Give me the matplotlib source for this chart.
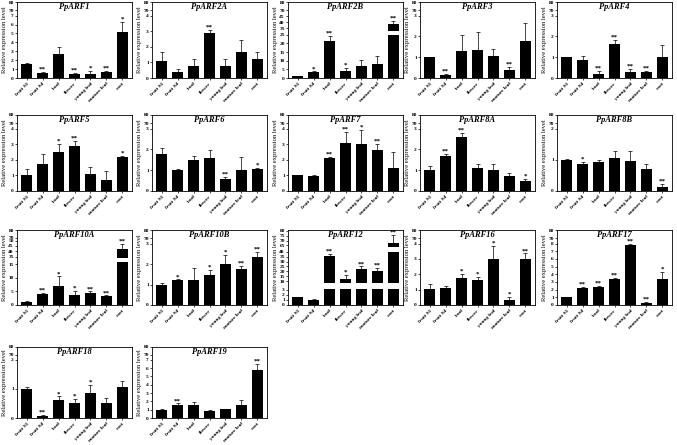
import numpy as np
import matplotlib
matplotlib.use('Agg')
import matplotlib.pyplot as plt

plt.rcParams.update({
    'font.family': 'Liberation Serif',
    'font.weight': 'bold',
    'axes.linewidth': 0.6,
    'xtick.major.width': 0.5, 'ytick.major.width': 0.5,
    'xtick.major.size': 1.5, 'ytick.major.size': 1.5,
    'xtick.major.pad': 1, 'ytick.major.pad': 0.8,
})

tissues = ['fruit S1', 'fruit S4', 'bud', 'flower', 'young leaf', 'mature leaf', 'root']

genes = ['PpARF1', 'PpARF2A', 'PpARF2B', 'PpARF3', 'PpARF4',
         'PpARF5', 'PpARF6', 'PpARF7', 'PpARF8A', 'PpARF8B',
         'PpARF10A', 'PpARF10B', 'PpARF12', 'PpARF16', 'PpARF17',
         'PpARF18', 'PpARF19']

means = {
    'PpARF1':   [1.6, 0.6, 2.75, 0.4, 0.5, 0.7, 5.15],
    'PpARF2A':  [1.1, 0.4, 0.75, 2.9, 0.75, 1.65, 1.25],
    'PpARF2B':  [1.0, 3.2, 21.5, 4.2, 7.0, 7.8, 39.0],
    'PpARF3':   [1.0, 0.15, 1.3, 1.35, 1.07, 0.38, 1.8],
    'PpARF4':   [1.0, 0.85, 0.18, 1.65, 0.3, 0.28, 1.0],
    'PpARF5':   [1.05, 1.75, 2.5, 2.9, 1.07, 0.72, 2.2],
    'PpARF6':   [1.78, 1.0, 1.48, 1.58, 0.57, 1.0, 1.05],
    'PpARF7':   [1.02, 0.98, 2.1, 3.1, 3.0, 2.6, 1.5],
    'PpARF8A':  [1.0, 1.68, 2.6, 1.12, 1.02, 0.7, 0.5],
    'PpARF8B':  [1.0, 0.87, 0.92, 1.07, 0.97, 0.7, 0.13],
    'PpARF10A': [1.0, 4.2, 7.0, 3.8, 4.4, 3.2, 42.0],
    'PpARF10B': [1.0, 1.2, 1.22, 1.45, 2.0, 1.77, 2.32],
    'PpARF12':  [1.5, 1.0, 36.0, 12.0, 22.5, 20.0, 67.0],
    'PpARF16':  [1.05, 1.12, 1.78, 1.65, 3.0, 0.3, 3.0],
    'PpARF17':  [1.0, 2.2, 2.35, 3.4, 7.8, 0.25, 3.35],
    'PpARF18':  [1.0, 0.07, 0.62, 0.52, 0.87, 0.53, 1.08],
    'PpARF19':  [1.0, 1.6, 1.55, 0.9, 1.05, 1.55, 5.8],
}

errs = {
    'PpARF1':   [0.1, 0.05, 0.7, 0.2, 0.25, 0.1, 1.1],
    'PpARF2A':  [0.55, 0.15, 0.5, 0.2, 0.45, 0.8, 0.45],
    'PpARF2B':  [0.2, 0.6, 2.8, 1.8, 3.5, 4.8, 2.5],
    'PpARF3':   [0.03, 0.03, 0.75, 0.85, 0.35, 0.15, 0.85],
    'PpARF4':   [0.0, 0.2, 0.15, 0.2, 0.12, 0.05, 0.58],
    'PpARF5':   [0.35, 0.6, 0.5, 0.3, 0.45, 0.55, 0.05],
    'PpARF6':   [0.28, 0.08, 0.22, 0.38, 0.12, 0.65, 0.07],
    'PpARF7':   [0.03, 0.03, 0.07, 0.7, 0.9, 0.4, 1.0],
    'PpARF8A':  [0.2, 0.1, 0.2, 0.18, 0.3, 0.15, 0.07],
    'PpARF8B':  [0.03, 0.06, 0.07, 0.2, 0.32, 0.18, 0.1],
    'PpARF10A': [0.4, 0.3, 3.5, 1.3, 0.6, 0.3, 5.0],
    'PpARF10B': [0.08, 0.05, 0.6, 0.28, 0.45, 0.15, 0.25],
    'PpARF12':  [0.1, 0.1, 1.5, 4.5, 2.5, 3.5, 8.5],
    'PpARF16':  [0.3, 0.1, 0.22, 0.15, 0.85, 0.25, 0.35],
    'PpARF17':  [0.05, 0.1, 0.1, 0.15, 0.1, 0.1, 0.9],
    'PpARF18':  [0.07, 0.03, 0.12, 0.14, 0.27, 0.15, 0.18],
    'PpARF19':  [0.05, 0.15, 0.35, 0.12, 0.05, 0.65, 0.75],
}

sigs = {
    'PpARF1':   ['', '**', '', '**', '*', '**', '*'],
    'PpARF2A':  ['', '', '', '**', '', '', ''],
    'PpARF2B':  ['', '*', '**', '*', '', '', '**'],
    'PpARF3':   ['', '**', '', '', '', '**', ''],
    'PpARF4':   ['', '', '**', '**', '**', '**', ''],
    'PpARF5':   ['', '', '*', '**', '', '', '*'],
    'PpARF6':   ['', '', '', '', '**', '', '*'],
    'PpARF7':   ['', '', '**', '**', '*', '**', ''],
    'PpARF8A':  ['', '**', '**', '', '', '', '*'],
    'PpARF8B':  ['', '*', '', '', '', '', '**'],
    'PpARF10A': ['', '**', '*', '*', '**', '**', '**'],
    'PpARF10B': ['', '*', '', '*', '*', '**', '**'],
    'PpARF12':  ['', '', '**', '*', '**', '**', '**'],
    'PpARF16':  ['', '', '*', '*', '*', '*', '**'],
    'PpARF17':  ['', '**', '**', '**', '**', '**', '*'],
    'PpARF18':  ['', '**', '*', '*', '*', '', ''],
    'PpARF19':  ['', '**', '', '', '', '', '**'],
}

# upper end of the main (unbroken) y range for the simple panels
ymax = {'PpARF1': 7, 'PpARF2A': 4, 'PpARF3': 3, 'PpARF4': 3, 'PpARF5': 4,
        'PpARF6': 3, 'PpARF7': 4, 'PpARF8A': 3, 'PpARF8B': 2, 'PpARF10B': 3,
        'PpARF16': 4, 'PpARF17': 8, 'PpARF18': 2, 'PpARF19': 7}

# broken axes: (data lo, data hi, axes frac lo, axes frac hi)
breaks = {
    'PpARF2B': [(0, 25, 0, 0.57), (33, 45, 0.62, 0.81), (70, 80, 0.89, 1.0)],
    'PpARF10A': [(0, 16, 0, 0.58), (34, 50, 0.63, 0.86), (70, 80, 0.90, 1.0)],
    'PpARF12': [(0, 3.2, 0, 0.22), (8, 40, 0.29, 0.711), (63, 81, 0.77, 1.0)],
}
break_ticks = {
    'PpARF2B': [0, 5, 10, 15, 20, 25, 35, 40, 45, 70, 80],
    'PpARF10A': [0, 5, 10, 15, 35, 40, 45, 50, 70, 80],
    'PpARF12': [0, 1, 2, 3, 10, 15, 20, 25, 30, 35, 40, 65, 70, 75, 80],
}


def make_scale(segs):
    d = np.array([v for s in segs for v in s[:2]], dtype=float)
    f = np.array([v for s in segs for v in s[2:]], dtype=float)
    return (lambda y: np.interp(y, d, f)), (lambda y: np.interp(y, f, d))


W, H = 677, 445
fig = plt.figure(figsize=(W / 100, H / 100), dpi=100)

col_left = [17, 152, 288, 420, 557]
ax_w = 115
rows = [(2, 78), (115, 191), (230, 305), (347, 418)]

x = np.arange(len(tissues))
for k, g in enumerate(genes):
    r, c = divmod(k, 5)
    top, bot = rows[r]
    ax = fig.add_axes([col_left[c] / W, 1 - bot / H, ax_w / W, (bot - top) / H])

    if g in breaks:
        segs = breaks[g]
        ticks = break_ticks[g]
    else:
        segs = [(0, ymax[g], 0, 0.82), (70, 80, 0.89, 1.0)]
        ticks = list(range(0, ymax[g] + 1)) + [70, 80]
    fwd, inv = make_scale(segs)
    ax.set_yscale('function', functions=(fwd, inv))
    ax.set_ylim(0, segs[-1][1])
    ax.set_yticks(ticks)
    ax.set_yticklabels([str(t) for t in ticks], fontsize=3.9)
    ax.minorticks_off()

    m = np.array(means[g])
    e = np.array(errs[g])
    ax.bar(x, m, width=0.66, color='black', zorder=1)
    ax.errorbar(x, m, yerr=[np.zeros_like(e), e], fmt='none', ecolor='black',
                elinewidth=0.5, capsize=1.6, capthick=0.5, zorder=3)

    # white gaps where the axis is broken
    for s0, s1 in zip(segs[:-1], segs[1:]):
        ax.axhspan(s0[1], s1[0], color='white', zorder=2, lw=0)

    for i, s in enumerate(sigs[g]):
        if s:
            ax.annotate(s, (x[i], m[i] + e[i]), xytext=(0, 0.2),
                        textcoords='offset points', ha='center', va='bottom',
                        fontsize=5, fontweight='bold', zorder=4)

    ax.set_xlim(-0.6, 6.6)
    ax.set_xticks(x)
    ax.set_xticklabels(tissues, rotation=45, ha='right', rotation_mode='anchor',
                       fontsize=3.8)
    ax.set_ylabel('Relative expression level', fontsize=4.8, labelpad=1)
    ax.text(0.5, 0.985, g, transform=ax.transAxes, ha='center', va='top',
            fontsize=6, style='italic', fontweight='bold')

fig.savefig('out.png', dpi=100)
